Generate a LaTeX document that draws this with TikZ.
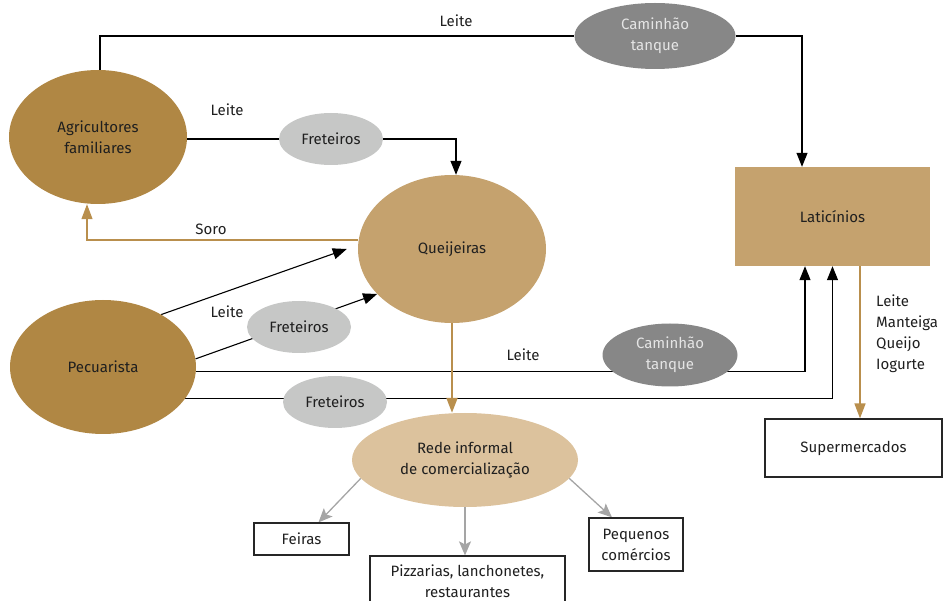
\documentclass[tikz,border=0pt]{standalone}
\usepackage{fontspec}
\setmainfont{Fira Sans}
\usepackage{xcolor}
\usepackage{tikz}
\usetikzlibrary{shapes}
\usetikzlibrary{arrows.meta}
\definecolor{ochre}{HTML}{B08744}
\definecolor{sand}{HTML}{C5A26E}
\definecolor{lightsand}{HTML}{DCC29D}
\definecolor{fretgray}{HTML}{C6C7C6}
\definecolor{truckgray}{HTML}{878787}
\definecolor{arrowgray}{HTML}{A5A5A5}
\definecolor{sorotan}{HTML}{B98F4D}
\pgfdeclarelayer{background}
\pgfsetlayers{background,main}
\tikzset{ producer/.style = {ellipse, fill=ochre, inner sep=0pt, align=center} }
\tikzset{ processor/.style = {ellipse, fill=sand, inner sep=0pt, align=center} }
\tikzset{ fret_node/.style = {ellipse, fill=fretgray, minimum width=104pt, minimum height=52pt, inner sep=0pt} }
\tikzset{ truck_node/.style = {ellipse, fill=truckgray, text=white!90!black, inner sep=0pt, align=center} }
\tikzset{ outlet/.style = {rectangle, draw=black!85, line width=1.2pt, inner sep=0pt, align=center} }
\tikzset{ flow/.style = {line width=1.1pt, -{Triangle[length=14pt,width=11pt]}} }
\tikzset{ tan_flow/.style = {draw=sorotan, line width=1.6pt, -{Triangle[length=15pt,width=11pt]}} }
\tikzset{ gray_flow/.style = {draw=arrowgray, line width=1.3pt, -{Stealth[length=14pt,width=12pt,inset=3pt]}} }

\begin{document}
\begin{tikzpicture}[x=1pt,y=-1pt,font=\fontsize{15}{21}\selectfont,text=black!88]
            \useasboundingbox (0,0) rectangle (943,601);
            \clip (0,0) rectangle (943,601);
            % producers and buyers
            \node [style=producer, minimum width=178pt, minimum height=134pt] (agri) at (98,137) {Agricultores\\familiares};
            \node [style=producer, minimum width=186pt, minimum height=134pt] (pec) at (103,367) {Pecuarista};
            \node [style=processor, minimum width=188pt, minimum height=148pt] (queij) at (452,249) {Queijeiras};
            \node [rectangle, fill=sand, minimum width=195pt, minimum height=99pt] (lat) at (832.5,216.5) {Laticínios};
            \node [ellipse, fill=lightsand, minimum width=226pt, minimum height=94pt, inner sep=0pt, align=center] (rede) at (465,460) {Rede informal\\de comercialização};
            % transport
            \node [style=truck_node, minimum width=161pt, minimum height=66pt] (cam1) at (655,36) {Caminhão\\tanque};
            \node [style=fret_node] (fret1) at (331,139) {Freteiros};
            \node [style=fret_node] (fret2) at (299,327) {Freteiros};
            \node [style=truck_node, minimum width=135pt, minimum height=63pt] (cam2) at (670,355) {Caminhão\\tanque};
            \node [style=fret_node] (fret3) at (335,402) {Freteiros};
            % outlets
            \node [style=outlet, minimum width=95pt, minimum height=32pt] (feiras) at (301.5,539) {Feiras};
            \node [style=outlet, minimum width=195pt, minimum height=50pt] (pizz) at (467.5,581) {Pizzarias, lanchonetes,\\restaurantes};
            \node [style=outlet, minimum width=94pt, minimum height=53pt] (peq) at (636,544.5) {Pequenos\\comércios};
            \node [style=outlet, minimum width=177pt, minimum height=58pt] (super) at (853.5,448) {Supermercados};
            % labels
            \node (leite_top) at (456,21) {Leite};
            \node (leite_agri) at (227,110) {Leite};
            \node (soro) at (211,229) {Soro};
            \node (leite_pec) at (227,312) {Leite};
            \node (leite_cam) at (523,355) {Leite};
            \node [anchor=north west, align=left, inner sep=0pt] (produtos) at (876,295) {Leite\\Manteiga\\Queijo\\Iogurte};
            \begin{pgfonlayer}{background}
            \draw[flow] ([xshift=2pt]agri.north) |- (cam1) -| ([xshift=-30.5pt]lat.north);
            \draw[flow] (agri.east |- fret1) -| ([xshift=4pt]queij.north);
            \draw[tan_flow, line width=1.1pt] ([yshift=9pt]queij.west) -| ([xshift=-11pt]agri.south);
            \draw[flow] (pec.42) -- ([xshift=-11pt]queij.west);
            \draw[flow] (pec.5) -- (queij.211);
            \draw[flow] (pec.-3) -| ([xshift=-27.5pt]lat.south);
            \draw[flow] (pec.-21) -| (lat.south);
            \draw[tan_flow, line width=2pt] (queij.south) -- (queij.south |- rede.north);
            \draw[gray_flow] (rede.190) -- ([xshift=17pt]feiras.north);
            \draw[gray_flow] (rede.south) -- (rede.south |- pizz.north);
            \draw[gray_flow] (rede.-10) -- ([xshift=-24pt]peq.north);
            \draw[tan_flow] ([xshift=27.5pt]lat.south) -- ([xshift=27.5pt]lat.south |- super.north);
            \end{pgfonlayer}
       \end{tikzpicture}
\end{document}
